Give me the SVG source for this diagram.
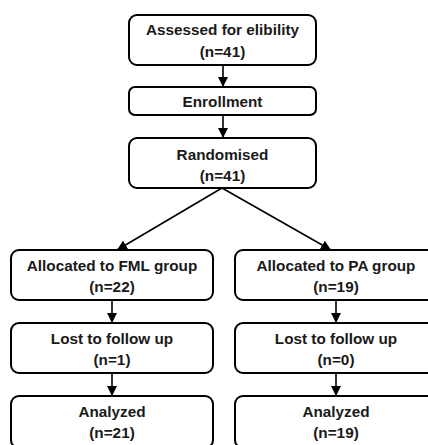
<svg xmlns="http://www.w3.org/2000/svg" width="428" height="445" viewBox="0 0 428 445">
<style>
.box{fill:#fff;stroke:#000;stroke-width:2}
.t{font-family:"Liberation Sans",Arial,sans-serif;font-weight:bold;font-size:15.3px;text-anchor:middle;fill:#1a1a1a}
.c{stroke:#000;stroke-width:1.6;fill:none}
</style>
<defs>
<marker id="ah" viewBox="0 0 10 10" refX="10" refY="5" markerWidth="10" markerHeight="10" markerUnits="userSpaceOnUse" orient="auto">
<path d="M0,0 L10,5 L0,10 z" fill="#000"/>
</marker>
</defs>
<rect width="428" height="445" fill="#fff"/>
<g id="connectors">
<line class="c" x1="223" y1="65" x2="223" y2="87" marker-end="url(#ah)"/>
<line class="c" x1="223" y1="115" x2="223" y2="138" marker-end="url(#ah)"/>
<line class="c" x1="222" y1="188" x2="117" y2="250" marker-end="url(#ah)"/>
<line class="c" x1="222" y1="188" x2="331" y2="250" marker-end="url(#ah)"/>
<line class="c" x1="112" y1="300" x2="112" y2="323" marker-end="url(#ah)"/>
<line class="c" x1="336" y1="300" x2="336" y2="323" marker-end="url(#ah)"/>
<line class="c" x1="112" y1="373" x2="112" y2="396" marker-end="url(#ah)"/>
<line class="c" x1="336" y1="373" x2="336" y2="396" marker-end="url(#ah)"/>
</g>
<g id="assessed">
<rect class="box" x="129" y="15" width="187" height="50" rx="8"/>
<text class="t" x="222.5" y="35">Assessed for elibility</text>
<text class="t" x="222.5" y="57">(n=41)</text>
</g>
<g id="enrollment">
<rect class="box" x="129" y="87" width="187" height="28" rx="6"/>
<text class="t" x="222.5" y="107">Enrollment</text>
</g>
<g id="randomised">
<rect class="box" x="129" y="138" width="187" height="50" rx="8"/>
<text class="t" x="222.5" y="160">Randomised</text>
<text class="t" x="222.5" y="181">(n=41)</text>
</g>
<g id="alloc-fml">
<rect class="box" x="11" y="250" width="202" height="50" rx="8"/>
<text class="t" x="112" y="271">Allocated to FML group</text>
<text class="t" x="112" y="292">(n=22)</text>
</g>
<g id="alloc-pa">
<rect class="box" x="235" y="250" width="202" height="50" rx="8"/>
<text class="t" x="336" y="271">Allocated to PA group</text>
<text class="t" x="336" y="292">(n=19)</text>
</g>
<g id="lost-fml">
<rect class="box" x="11" y="323" width="202" height="50" rx="8"/>
<text class="t" x="112" y="344">Lost to follow up</text>
<text class="t" x="112" y="365">(n=1)</text>
</g>
<g id="lost-pa">
<rect class="box" x="235" y="323" width="202" height="50" rx="8"/>
<text class="t" x="336" y="344">Lost to follow up</text>
<text class="t" x="336" y="365">(n=0)</text>
</g>
<g id="analyzed-fml">
<rect class="box" x="11" y="396" width="202" height="52" rx="8"/>
<text class="t" x="112" y="417">Analyzed</text>
<text class="t" x="112" y="438">(n=21)</text>
</g>
<g id="analyzed-pa">
<rect class="box" x="235" y="396" width="202" height="52" rx="8"/>
<text class="t" x="336" y="417">Analyzed</text>
<text class="t" x="336" y="438">(n=19)</text>
</g>
</svg>
